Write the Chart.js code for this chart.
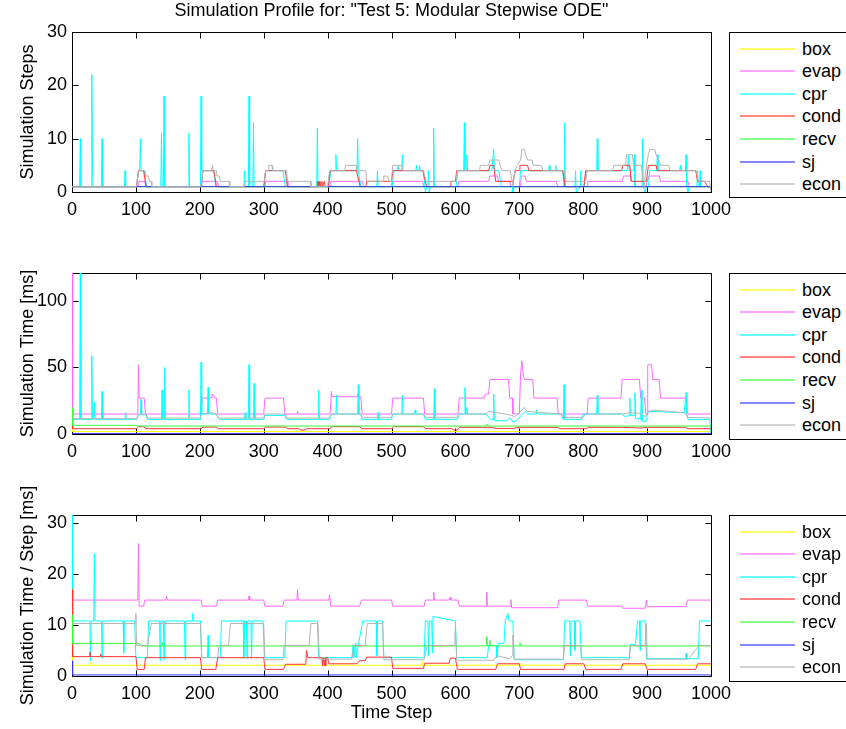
<!DOCTYPE html>
<html>
<head>
<meta charset="utf-8">
<script src="https://cdn.jsdelivr.net/npm/chart.js@4.4.1/dist/chart.umd.min.js"></script>
<style>
  body { margin: 0; background: #fff; }
  #page { position: relative; width: 846px; height: 729px; overflow: hidden; font-family: "Liberation Sans", Arial, sans-serif; }
  #page canvas { position: absolute; left: 0; }
  .legend { position: absolute; left: 729px; width: 125px; border: 1px solid #000; background: #fff; }
  .legend .row { position: absolute; left: 0; width: 120px; height: 22px; line-height: 22px; font-size: 18px; color: #000; }
  .legend .swatch { position: absolute; left: 10px; top: 10px; width: 55px; height: 2px; opacity: 0.6; }
  .legend .label { position: absolute; left: 72px; top: 0; }
</style>
</head>
<body>
<div id="page">
  <canvas id="steps" width="783" height="240" style="top:0px"></canvas>
  <canvas id="time" width="783" height="230" style="top:250px"></canvas>
  <canvas id="perStep" width="783" height="249" style="top:480px"></canvas>
  <div class="legend" id="leg1" style="top:32px;height:164px"></div>
  <div class="legend" id="leg2" style="top:273px;height:165px"></div>
  <div class="legend" id="leg3" style="top:515px;height:165px"></div>
</div>
<script>
const seriesNames = ['box', 'evap', 'cpr', 'cond', 'recv', 'sj', 'econ'];
const seriesColors = ['#ffff00', '#ff66ff', '#00ffff', '#ff3333', '#33ff33', '#3333ff', '#b4b4b4'];

const xTickValues = [0, 100, 200, 300, 400, 500, 600, 700, 800, 900, 1000];
const stepsTicks = [0, 10, 20, 30];
const timeTicks = [0, 50, 100];
const perStepTicks = [0, 10, 20, 30];

// --- Simulation Steps : [time step, value] ---
const stepsBox = [[0,1],[1000,1]];
const stepsEvap = [[0,1],[104,1],[105,2],[114,2],[115,1],[203,1],[204,2],[228,2],[229,1],[302,1],[303,2],[337,2],[338,1],
  [404,1],[405,2],[455,2],[456,1],[500,1],[501,2],[549,2],[550,1],[604,1],[605,2],[652,2],[654,3],[666,3],[667,2],[685,2],[687,1],
  [702,1],[703,3],[709,3],[711,2],[758,2],[760,1],[806,1],[807,2],[861,2],[863,3],[874,3],[876,2],[880,2],[882,1],[898,1],[903,3],
  [919,3],[921,2],[964,2],[966,1],[1000,1]];
const stepsCpr = [[0,1],[12,1],[13,10],[14,1],[30,1],[31,22],[32,6],[33,1],[46,1],[47,10],[48,1],[82,1],[83,4],[84,1],
  [101,1],[104,4],[106,4],[107,10],[108,4],[113,4],[117,1],[139,1],[140,11],[141,1],[143,1],[144,18],[145,1],[182,1],[183,11],[184,1],
  [201,1],[202,18],[203,4],[222,4],[225,1],[269,1],[270,4],[271,1],[276,1],[277,18],[278,1],[283,1],[284,13],[285,1],
  [301,1],[303,4],[330,4],[334,1],[383,1],[384,12],[385,1],[402,1],[405,4],[412,4],[413,7],[414,4],[446,4],[447,10],[448,4],[452,1],
  [477,1],[478,4],[479,1],[501,1],[504,4],[509,4],[510,5],[511,4],[516,4],[517,7],[518,4],[538,4],[539,5],[540,4],[543,4],[544,5],[545,4],
  [550,4],[553,0],[555,1],[557,1],[558,4],[559,0],[561,1],[565,1],[566,12],[567,1],[601,1],[604,4],[613,4],[614,13],[615,4],[617,4],[618,7],[619,4],
  [652,4],[657,4],[660,8],[661,4],[668,4],[672,1],[689,1],[690,0],[692,1],[700,1],[702,4],[746,4],[747,5],[748,4],[756,4],[757,5],[758,4],
  [768,4],[770,1],[771,13],[772,1],[787,1],[788,4],[789,0],[795,1],[796,4],[797,1],[802,1],[804,4],[821,4],[822,10],[823,4],
  [869,4],[871,7],[872,4],[879,4],[880,7],[881,1],[892,1],[893,10],[894,1],[897,0],[899,1],[902,1],[904,4],[915,4],[916,7],[917,4],
  [951,4],[952,5],[953,4],[960,4],[961,7],[962,1],[964,0],[966,1],[978,1],[979,4],[980,1],[982,1],[983,4],[984,1],[1000,1]];
const stepsCond = [[0,1],[101,1],[104,4],[112,4],[116,1],[202,1],[205,4],[222,4],[226,1],[300,1],[303,4],[334,4],[337,1],
  [384,1],[385,2],[386,1],[388,2],[389,1],[391,2],[392,1],[395,2],[396,1],[401,1],[404,4],[445,4],[451,1],[460,1],[461,2],[500,2],[502,4],
  [549,4],[555,1],[592,1],[593,2],[600,2],[602,4],[652,4],[654,5],[660,5],[661,4],[663,2],[690,2],[694,4],[700,4],[701,5],[713,5],[715,4],
  [768,4],[772,1],[801,1],[804,4],[860,4],[862,5],[873,5],[875,2],[899,2],[902,5],[914,5],[916,4],[976,4],[979,2],[990,2],[995,1],[1000,1]];
const stepsRecv = [[0,1],[1000,1]];
const stepsSj = [[0,1],[1000,1]];
const stepsEcon = [[0,1],[101,1],[104,4],[114,4],[116,3],[120,3],[121,2],[124,2],[125,1],[202,1],[205,4],[218,4],[220,5],[221,4],[226,4],
  [227,3],[231,3],[232,2],[246,2],[247,1],[270,1],[271,2],[301,2],[303,4],[307,4],[308,5],[313,5],[314,4],[336,4],[337,2],[373,2],[374,1],
  [400,1],[403,4],[427,4],[428,5],[445,5],[446,4],[460,4],[461,2],[487,2],[488,3],[494,3],[496,2],[500,2],[502,5],[516,5],[518,4],[550,4],
  [554,2],[601,2],[603,4],[638,4],[639,5],[652,5],[654,6],[668,6],[670,5],[673,4],[686,4],[690,1],[693,4],[697,5],[702,6],[704,8],[708,8],
  [710,7],[713,6],[720,6],[722,5],[735,5],[737,4],[770,4],[773,2],[804,2],[806,4],[846,4],[848,5],[866,5],[868,7],[877,7],[879,5],[891,5],
  [895,1],[899,5],[902,7],[904,8],[912,8],[914,7],[918,6],[921,5],[934,5],[936,4],[977,4],[980,2],[998,2],[1000,0]];

// --- Simulation Time [ms] ---
const timeBox = [[0,9],[1,1.8],[350,1.8],[351,2.5],[352,1.8],[1000,1.8]];
const timeEvap = [[0,121],[1,15],[103,15],[104,52],[105,27],[113,27],[115,15],[202,15],[204,27],[218,27],[219,30],[222,29],[223,27],[226,27],[228,15],
  [300,15],[302,27],[331,27],[333,15],[352,15],[353,17],[354,15],[404,15],[406,32],[407,28],[446,28],[447,30],[448,28],[452,28],[454,15],
  [500,15],[502,27],[550,27],[552,15],[604,15],[606,27],[645,27],[647,30],[652,30],[654,41],[683,41],[685,27],[689,27],[690,15],[700,15],
  [702,45],[704,55],[706,45],[708,41],[721,41],[723,27],[759,27],[761,15],[806,15],[808,27],[859,27],[861,41],[888,41],[890,27],[896,27],
  [898,15],[900,15],[901,52],[907,52],[909,41],[919,41],[921,27],[961,27],[963,15],[1000,15]];
const timeCpr = [[0,11],[12,11],[13,121],[14,11],[30,11],[31,59],[32,11],[34,11],[35,24],[36,11],[46,11],[47,32],[48,11],[83,11],[84,16],[85,11],
  [101,11],[104,14.5],[107,14.5],[108,26],[109,14.5],[116,14.5],[118,11],[140,11],[141,33],[142,11],[144,11],[145,50],[146,11],[182,11],[183,33],[184,11],
  [201,11],[202,54],[203,15],[212,15],[213,35],[214,15],[226,15],[229,12],[232,11],[270,11],[271,16],[272,11],[276,11],[277,52],[278,11],
  [284,11],[285,38],[286,11],[300,11],[302,14],[333,14],[336,11],[385,11],[386,33],[387,11],[403,11],[406,15],[413,15],[414,29],[415,15],
  [447,15],[448,37],[449,15],[452,15],[454,11],[478,11],[479,16],[480,11],[500,11],[502,15],[516,15],[517,29],[518,15],[536,15],[537,18],[538,15],
  [550,15],[553,11],[566,11],[567,34],[568,11],[603,11],[606,15],[614,15],[615,35],[616,15],[617,15],[618,20],[619,15],[648,15],[655,11],
  [659,11],[660,30],[661,10],[680,10],[686,12],[690,9],[696,10],[703,14],[709,17],[713,15],[726,15],[727,18],[728,15],[765,15],[769,11],
  [770,37],[771,11],[797,11],[800,15],[821,15],[822,29],[823,15],[860,15],[866,13],[872,14],[873,27],[874,14],[880,14],[881,31],[882,12],
  [890,11],[891,33],[892,10],[898,9],[901,16],[905,17],[958,16],[961,31],[962,16],[964,11],[998,11],[1000,0]];
const timeCond = [[0,18],[1,4],[101,4],[104,5.5],[112,5.5],[116,4],[202,4],[205,5.2],[226,5.2],[229,4],[300,4],[303,5.2],[334,5.2],[337,4],
  [355,4],[357,3],[365,3],[367,4],[404,4],[406,5.5],[450,5.5],[453,4],[500,4],[503,5.5],[550,5.5],[553,4],[595,4],[597,3],[603,3],[606,5],
  [653,5],[665,4.2],[690,4.2],[700,5],[760,5],[763,4],[805,4],[808,5],[860,5],[890,4.5],[900,5],[960,5],[963,4],[1000,4]];
const timeRecv = [[0,20],[1,6.5],[100,6.5],[102,6],[648,6],[649,7.5],[651,6],[1000,6]];
const timeSj = [[0,0.4],[1000,0.4]];
const timeEcon = [[0,11.5],[101,11.5],[104,15],[116,15],[118,12],[200,12],[203,15],[219,16],[226,15],[229,12],[300,12],[302,15],[333,15],
  [336,12],[403,12],[406,15],[452,15],[454,12.5],[500,12.5],[502,15],[550,15],[553,12.5],[603,12.5],[606,15],[648,15],[652,17],[665,16],
  [688,14],[693,13],[700,16],[708,20],[712,17],[765,15],[769,12.5],[800,12.5],[803,15],[860,15],[872,16],[890,15.5],[897,13],[902,17],
  [910,18],[958,16],[964,12.5],[1000,12]];

// --- Simulation Time / Step [ms] ---
const perStepBox = [[0,5],[1,2.1],[27,2.1],[28,2.8],[29,2.1],[352,2.1],[353,2.5],[354,2.1],[547,2.1],[548,2.8],[549,2.1],[700,2.1],[701,2.5],[702,2.1],[1000,2.1]];
const perStepEvap = [[0,22],[1,14.9],[103,14.9],[104,26],[105,13.7],[112,13.7],[114,14.9],[147,14.9],[148,15.7],[149,14.9],[202,14.9],[204,13.7],
  [226,13.7],[228,14.9],[276,14.9],[277,15.7],[278,14.9],[300,14.9],[302,13.7],[330,13.7],[332,14.9],[352,14.9],[353,17],[354,14.9],[402,14.9],
  [403,16],[405,13.7],[450,13.7],[453,14.9],[500,14.9],[502,13.7],[551,13.7],[553,14.9],[565,14.9],[566,16.5],[567,14.9],[590,14.9],[592,15.5],
  [593,14.9],[604,14.9],[606,13.7],[648,13.7],[649,16.5],[650,13.7],[686,13.7],[687,15],[688,13.4],[760,13.4],[762,14.9],[805,14.9],[807,13.7],
  [860,13.7],[862,13.3],[897,13.3],[899,14.9],[900,13.6],[961,13.6],[963,14.9],[1000,14.9]];
const perStepCpr = [[0,31.6],[1,10.8],[28,10.8],[29,3],[30,10.8],[34,10.8],[35,24],[36,10.8],[46,10.8],[47,3.5],[48,10.8],[80,10.8],[81,4.5],[82,10.8],
  [98,10.8],[100,3.6],[118,3.6],[120,10.8],[137,10.8],[138,3],[139,10.8],[143,10.8],[144,3.2],[145,10.8],[176,10.8],[177,3.2],[178,10.8],
  [188,10.8],[189,12.3],[190,10.8],[201,10.8],[203,3.6],[212,3.6],[213,8],[214,3.6],[232,3.6],[234,10.8],[268,10.8],[269,3.5],[270,10.8],
  [273,10.8],[274,3.5],[275,10.8],[280,10.8],[281,3.5],[282,10.8],[299,10.8],[301,3.6],[333,3.6],[335,10.8],[384,10.8],[386,3.6],[438,3.6],
  [440,6],[441,3.6],[444,6.5],[445,3.6],[448,6],[455,10.8],[476,10.8],[477,4],[478,10.8],[486,10.8],[488,3.6],[551,3.6],[553,10.8],[557,10.8],
  [558,4],[559,10.8],[563,10.8],[564,4.5],[565,11.7],[600,10.8],[602,3.6],[650,3.6],[652,6],[664,6],[665,3.6],[667,6.4],[676,6.4],[678,10.8],
  [682,12.3],[684,10.8],[690,10.8],[692,3.2],[769,3.2],[771,10.8],[779,10.8],[780,4],[781,10.8],[786,10.8],[787,5],[788,10.8],[795,10.8],
  [797,3.6],[872,3.6],[874,6.2],[882,6.2],[885,10.8],[888,10.8],[889,5],[890,10.8],[897,10.8],[899,3.4],[960,3.4],[961,4.5],[962,3.4],
  [980,3.4],[982,10.8],[1000,10.8]];
const perStepCond = [[0,17],[1,3.8],[27,3.8],[28,4.7],[29,3.8],[44,3.8],[45,4.3],[46,3.8],[100,3.8],[102,1.3],[113,1.3],[115,3.6],[201,3.6],
  [203,1.3],[225,1.3],[228,3.6],[300,3.6],[302,1.3],[331,1.3],[334,2.3],[366,2.3],[367,5],[369,3.6],[391,3.6],[392,2],[393,3.6],[395,2],
  [396,3.6],[397,2],[398,3.6],[400,3.6],[402,2.4],[446,2.4],[450,3],[459,3],[461,3.7],[500,3.7],[502,1.5],[550,1.5],[552,2.5],[590,2.5],
  [592,3.5],[600,3.5],[603,1.3],[663,1.3],[666,2.4],[700,2.4],[702,1.3],[770,1.3],[772,2.4],[801,2.4],[804,1.3],[859,1.3],[862,2.4],
  [897,2.4],[900,1.3],[976,1.3],[979,2.4],[1000,2.4]];
const perStepRecv = [[0,12],[1,6.4],[28,6.4],[29,6.9],[30,6.4],[106,6.4],[108,5.9],[141,5.9],[142,6.6],[143,5.9],[648,5.9],[649,7.7],[650,5.9],
  [653,5.9],[654,7],[655,5.9],[700,5.9],[701,6.5],[702,5.9],[1000,5.9]];
const perStepSj = [[0,3],[1,0.2],[1000,0.2]];
const perStepEcon = [[0,10.3],[99,10.3],[100,12.3],[101,6],[118,6],[121,8],[124,10.3],[201,10.3],[203,3.6],[228,3.6],[230,6],[245,6],[248,10.3],
  [300,10.3],[302,3.2],[330,3.2],[332,6],[371,6],[374,10.3],[385,10.3],[387,3.3],[438,3.3],[441,6],[459,6],[462,10.3],[486,10.3],[488,3.2],
  [551,3.2],[556,6],[599,6],[600,10],[602,3.1],[660,3.1],[665,4],[685,3.4],[689,4],[690,8],[692,3.3],[769,3.3],[771,6],[796,6],[798,3.2],
  [872,3.2],[874,6],[897,6],[899,10.3],[900,3.3],[965,3.3],[975,5],[982,6],[1000,6]];

Chart.defaults.font.family = '"Liberation Sans", Arial, sans-serif';
Chart.defaults.font.size = 18;
Chart.defaults.color = '#000';

// MATLAB style box with inward ticks on all four sides
const matlabBox = {
  id: 'matlabBox',
  beforeDatasetsDraw(chart) {
    const { ctx, chartArea: a, scales: { x, y } } = chart;
    const L = Math.round(a.left) + 0.5, R = Math.round(a.right) + 0.5;
    const T = Math.round(a.top) + 0.5, B = Math.round(a.bottom) + 0.5;
    ctx.save();
    ctx.strokeStyle = '#000';
    ctx.lineWidth = 1;
    ctx.beginPath();
    x.ticks.forEach(t => {
      const px = Math.round(x.getPixelForValue(t.value)) + 0.5;
      ctx.moveTo(px, B); ctx.lineTo(px, B - 6);
      ctx.moveTo(px, T); ctx.lineTo(px, T + 6);
    });
    y.ticks.forEach(t => {
      const py = Math.round(y.getPixelForValue(t.value)) + 0.5;
      ctx.moveTo(L, py); ctx.lineTo(L + 6, py);
      ctx.moveTo(R, py); ctx.lineTo(R - 6, py);
    });
    ctx.rect(L, T, R - L, B - T);
    ctx.stroke();
    ctx.restore();
  }
};

function toXY(pairs) {
  return pairs.map(([x, y]) => ({ x, y }));
}

function makeChart(id, series, yMax, yTicks, yTitle, extra) {
  const datasets = series.map((s, k) => ({
    label: seriesNames[k],
    data: toXY(s),
    borderColor: seriesColors[k],
    backgroundColor: seriesColors[k],
    borderWidth: 1,
    pointRadius: 0,
    tension: 0,
    fill: false,
    order: seriesNames.length - k
  }));
  return new Chart(document.getElementById(id), {
    type: 'line',
    data: { datasets },
    options: {
      responsive: false,
      animation: false,
      events: [],
      layout: { padding: { left: 0, right: 72, top: extra.padTop, bottom: 0 } },
      plugins: {
        legend: { display: false },
        tooltip: { enabled: false },
        title: extra.title ? {
          display: true, text: extra.title, color: '#000', fullSize: false,
          font: { size: 18, weight: 'normal' },
          padding: { top: 0, bottom: 10.4 }
        } : { display: false }
      },
      scales: {
        x: {
          type: 'linear', min: 0, max: 1000,
          grid: { display: false, drawTicks: false },
          border: { display: false },
          afterBuildTicks: s => { s.ticks = xTickValues.map(v => ({ value: v })); },
          afterFit: s => { s.height = extra.xHeight; },
          ticks: { padding: 7, maxRotation: 0, autoSkip: false, callback: v => String(v) },
          title: extra.xTitle ? { display: true, text: extra.xTitle, font: { size: 18 }, padding: { top: 0, bottom: 5 } } : { display: false }
        },
        y: {
          type: 'linear', min: 0, max: yMax,
          grid: { display: false, drawTicks: false },
          border: { display: false },
          afterBuildTicks: s => { s.ticks = yTicks.map(v => ({ value: v })); },
          afterFit: s => { s.width = 72; },
          ticks: { padding: 5, callback: v => String(v) },
          title: { display: true, text: yTitle, font: { size: 18 }, padding: { top: 17, bottom: 0 } }
        }
      }
    },
    plugins: [matlabBox]
  });
}

makeChart('steps',
  [stepsBox, stepsEvap, stepsCpr, stepsCond, stepsRecv, stepsSj, stepsEcon],
  30, stepsTicks, 'Simulation Steps',
  { padTop: 0, xHeight: 48, title: 'Simulation Profile for: "Test 5: Modular Stepwise ODE"' });

makeChart('time',
  [timeBox, timeEvap, timeCpr, timeCond, timeRecv, timeSj, timeEcon],
  121, timeTicks, 'Simulation Time [ms]',
  { padTop: 23, xHeight: 46 });

makeChart('perStep',
  [perStepBox, perStepEvap, perStepCpr, perStepCond, perStepRecv, perStepSj, perStepEcon],
  31.6, perStepTicks, 'Simulation Time / Step [ms]',
  { padTop: 35, xHeight: 53, xTitle: 'Time Step' });

// legends
['leg1', 'leg2', 'leg3'].forEach(id => {
  const box = document.getElementById(id);
  seriesNames.forEach((name, i) => {
    const row = document.createElement('div');
    row.className = 'row';
    row.style.top = (4.5 + i * 22.6) + 'px';
    const sw = document.createElement('span');
    sw.className = 'swatch';
    sw.style.background = seriesColors[i];
    const lb = document.createElement('span');
    lb.className = 'label';
    lb.textContent = name;
    row.appendChild(sw);
    row.appendChild(lb);
    box.appendChild(row);
  });
});
</script>
</body>
</html>
